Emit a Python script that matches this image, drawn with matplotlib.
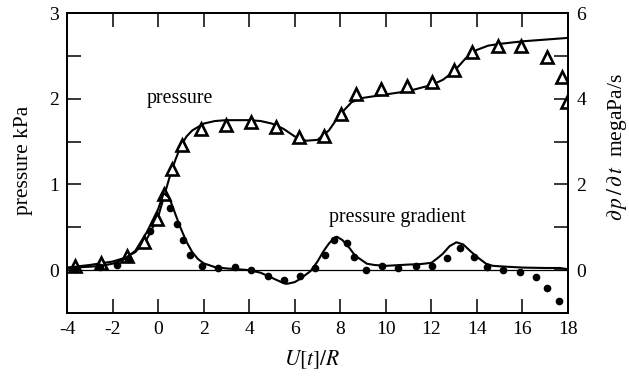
import matplotlib
matplotlib.use('Agg')
import matplotlib.pyplot as plt

plt.rcParams['font.family'] = ['Liberation Serif', 'DejaVu Serif']
plt.rcParams['mathtext.fontset'] = 'stix'
plt.rcParams['axes.unicode_minus'] = False

# pressure data (triangles), kPa
p_x = [-3.65, -2.5, -1.36, -0.6, -0.05, 0.26, 0.6, 1.05, 1.88, 3.0, 4.1, 5.2, 6.2,
       7.3, 8.03, 8.7, 9.8, 10.93, 12.03, 13.0, 13.8, 14.93, 15.94, 17.08, 17.74, 17.96]
p_y = [0.05, 0.08, 0.17, 0.33, 0.6, 0.89, 1.18, 1.46, 1.65, 1.69, 1.73, 1.67, 1.55,
       1.56, 1.82, 2.05, 2.11, 2.15, 2.2, 2.34, 2.55, 2.61, 2.61, 2.49, 2.25, 1.96]

# pressure fit curve, kPa
pc_x = [-4, -3, -2, -1.5, -1, -0.5, 0, 0.25, 0.5, 0.75, 1, 1.25, 1.5, 2, 2.5, 3, 4,
        4.5, 5, 5.5, 6, 6.5, 7, 7.5, 8, 8.5, 9, 9.5, 10, 11, 12, 12.5, 13, 13.5, 14,
        14.5, 15, 16, 17, 18]
pc_y = [0.03, 0.06, 0.10, 0.14, 0.21, 0.36, 0.62, 0.85, 1.08, 1.28, 1.45, 1.56, 1.63,
        1.71, 1.74, 1.75, 1.75, 1.74, 1.71, 1.65, 1.56, 1.51, 1.52, 1.63, 1.82, 1.96,
        2.01, 2.03, 2.05, 2.09, 2.16, 2.22, 2.32, 2.47, 2.57, 2.62, 2.64, 2.67, 2.69, 2.71]

# pressure gradient data (dots), megaPa/s
g_x = [-3.65, -2.55, -1.8, -1.3, -0.35, 0.52, 0.83, 1.1, 1.38, 1.92, 2.63, 3.38, 4.1,
       4.82, 5.52, 6.22, 6.88, 7.33, 7.72, 8.3, 8.6, 9.13, 9.83, 10.54, 11.33, 12.03,
       12.7, 13.26, 13.86, 14.45, 15.15, 15.9, 16.6, 17.1, 17.6]
g_y = [0.03, 0.08, 0.13, 0.27, 0.92, 1.44, 1.08, 0.71, 0.36, 0.1, 0.05, 0.08, 0.0,
       -0.13, -0.22, -0.13, 0.06, 0.36, 0.7, 0.64, 0.31, 0.01, 0.1, 0.06, 0.1, 0.1,
       0.29, 0.52, 0.31, 0.08, 0.01, -0.05, -0.17, -0.42, -0.73]

# pressure gradient fit curve, megaPa/s
gc_x = [-4, -3, -2.5, -2, -1.5, -1, -0.5, 0, 0.25, 0.5, 0.75, 1, 1.25, 1.5, 1.75, 2,
        2.5, 3, 4, 4.5, 5, 5.5, 5.65, 6, 6.25, 6.7, 7, 7.25, 7.5, 7.75, 7.85, 8.1, 8.4,
        8.65, 9.17, 9.5, 10, 11, 11.5, 12, 12.25, 12.5, 12.8, 13.1, 13.4, 13.7, 14,
        14.4, 14.7, 15.3, 16, 17, 17.65, 18]
gc_y = [0.05, 0.08, 0.1, 0.15, 0.25, 0.45, 0.88, 1.42, 1.8, 1.68, 1.32, 0.97, 0.66,
        0.42, 0.26, 0.16, 0.07, 0.04, 0.0, -0.06, -0.18, -0.3, -0.32, -0.28, -0.2,
        -0.02, 0.2, 0.43, 0.62, 0.76, 0.78, 0.7, 0.52, 0.34, 0.15, 0.12, 0.1, 0.13,
        0.14, 0.17, 0.27, 0.38, 0.56, 0.65, 0.6, 0.45, 0.31, 0.15, 0.1, 0.08, 0.06,
        0.05, 0.05, 0.02]

fig = plt.figure(figsize=(6.29, 3.78), dpi=100)
ax = fig.add_axes([0.1065, 0.172, 0.7965, 0.7935])
ax2 = ax.twinx()

ax.axhline(0, color='black', lw=0.9)
ax.plot(pc_x, pc_y, color='black', lw=1.5)
ax.plot(p_x, p_y, linestyle='none', marker='^', markersize=9, mfc='white',
        mec='black', mew=1.9)
ax2.plot(gc_x, gc_y, color='black', lw=1.5)
ax2.plot(g_x, g_y, linestyle='none', marker='o', markersize=4.5, color='black')

ax.set_xlim(-4, 18)
ax.set_ylim(-0.5, 3)
ax2.set_ylim(-1, 6)

ax.set_xticks(range(-4, 19, 2))
ax.set_yticks([0, 1, 2, 3])
ax.set_yticks([0.5, 1.5, 2.5], minor=True)
ax2.set_yticks([0, 2, 4, 6])
ax2.set_yticks([1, 3, 5], minor=True)

for a in (ax, ax2):
    for s in a.spines.values():
        s.set_linewidth(1.3)
ax.tick_params(which='both', direction='in', length=10, width=1.1, labelsize=14,
               pad=6, top=True, right=False)
ax2.tick_params(which='both', direction='in', length=10, width=1.1, labelsize=14,
                pad=6)

ax.set_ylabel('pressure kPa', fontsize=15.5)
ax2.set_ylabel(r'$\partial\, p\,/\,\partial\, t$  megaPa/s', fontsize=15.5)
ax.set_xlabel(r'$U[t]/R$', fontsize=15.5)
ax.yaxis.set_label_coords(-0.068, 0.51)
ax2.yaxis.set_label_coords(1.074, 0.553)
ax.xaxis.set_label_coords(0.489, -0.117)

ax.text(0.96, 2.0, 'pressure', fontsize=14.3, ha='center', va='center')
ax.text(10.5, 0.62, 'pressure gradient', fontsize=14.3, ha='center', va='center')

fig.savefig('out.png', dpi=100)
